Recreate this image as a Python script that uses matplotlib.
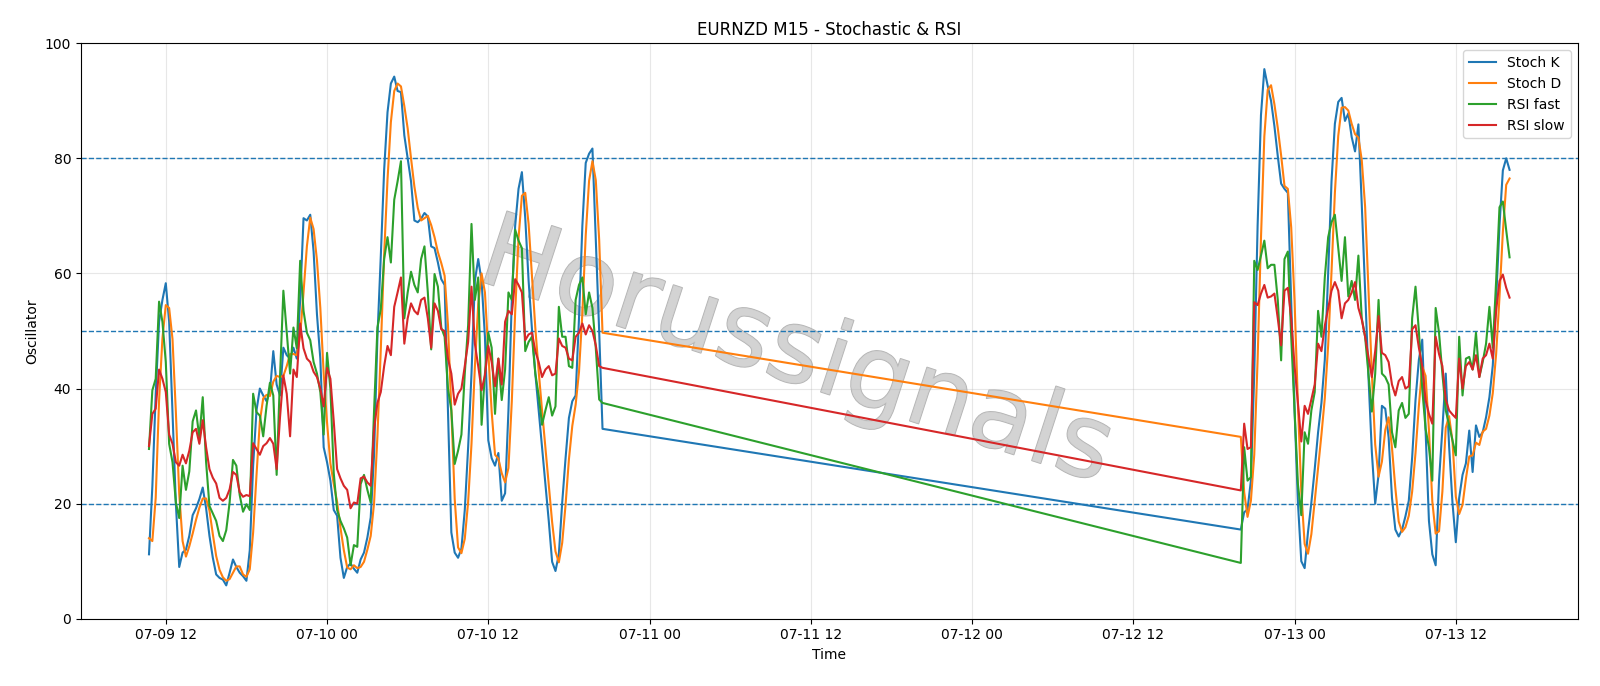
import matplotlib
matplotlib.use("Agg")
import matplotlib.pyplot as plt
import matplotlib.dates as mdates
import matplotlib.patheffects as pe
import pandas as pd

# M15 bars, Thu/Fri session then Sunday open (weekend gap is bridged by the line)
start_1 = "2020-07-09 10:45"
start_2 = "2020-07-12 20:00"

stoch_k_1 = [11.2, 23, 39, 51.6, 55.4, 58.3, 51.6, 36, 20, 9,
             11.5, 12, 14.4, 18, 19.2, 20.8, 22.8, 19.2, 14.4, 10.6,
             7.7, 7.1, 6.8, 5.8, 8, 10.3, 9, 8, 7.4,
             6.6, 11.9, 26.6, 36.2, 40, 38.8, 37.8, 39.4, 46.5, 40.7,
             38.8, 47.1, 45.8, 45.2, 47.1, 45.2, 55.4, 69.6, 69.2, 70.2,
             63.8, 52.9, 45.2, 29.8, 27.2, 24, 18.9, 17.9, 10.6, 7.1,
             9, 9.6, 8.7, 8, 10.3, 11.5, 14.1, 17.6, 28.5,
             49, 63, 78, 88, 93, 94.2, 91.7, 91.5, 84, 80,
             76, 69.2, 68.9, 69.5, 70.5, 69.9, 64.7, 64.4, 61.9, 59,
             58, 36, 15, 11.5, 10.6, 12.2, 18.9, 29.8, 42.6, 58.7,
             62.5, 58.7, 49, 31, 27.9, 26.6, 28.8, 20.5, 21.8, 36.2,
             55.4, 68.3, 74.7, 77.6, 69.6, 58.7, 50.3, 42.6, 36.2, 29.8,
             23.4, 17, 9.9, 8.3, 11.2, 20.2, 27.9, 34.9, 37.8, 38.8,
             52.2, 68.3, 79.2, 80.8, 81.7, 66, 50, 33]
stoch_d_1 = [14, 13.5, 21, 37.9, 48.7, 54.5, 54, 48.6, 35.9, 21.7,
             13.5, 10.8, 12.6, 14.8, 17.2, 19.3, 20.9, 20.9, 18.8, 14.7,
             10.9, 8.5, 7.2, 6.6, 6.9, 8, 9.1, 9.1, 7.7,
             7.3, 8.6, 15, 24.9, 34.3, 38.3, 38.9, 38.7, 41.2, 42.2,
             42, 42.2, 43.9, 46, 46, 45.8, 49.2, 56.7, 64.7, 69.7,
             67.7, 62.3, 54, 42.6, 34.1, 27, 23.4, 20.3, 15.8, 11.9,
             8.9, 8.6, 9.3, 8.8, 9, 9.9, 12, 14.4, 20.1,
             31.7, 46.8, 63.3, 76.3, 86.3, 91.7, 93, 92.5, 89.1, 85.2,
             80, 75.1, 71.4, 69.2, 69.6, 70, 68.4, 66.3, 63.7, 61.8,
             59.6, 51, 36.3, 20.8, 12.4, 11.4, 13.9, 20.3, 30.4, 43.7,
             54.6, 60, 56.7, 46.2, 36, 28.5, 27.8, 25.3, 23.7, 26.2,
             37.8, 53.3, 66.1, 73.5, 74, 68.6, 59.5, 50.5, 43, 36.2,
             29.8, 23.4, 16.8, 11.7, 9.8, 13.2, 19.8, 27.7, 33.5, 37.2,
             42.9, 53.1, 66.6, 76.1, 79.5, 76.2, 65.9, 49.7]
rsi_fast_1 = [29.5, 39.7, 41.7, 55.1, 51.6, 44.6, 30.4, 27.2, 20.2, 17.5,
              26.6, 22.4, 25.6, 34.3, 36.2, 31.4, 38.5, 27.2, 19.6, 18.3,
              17, 14.4, 13.5, 15.4, 20.2, 27.6, 26.6, 21.5, 18.6,
              19.9, 18.9, 39.1, 35.9, 35.3, 31.7, 37, 41, 38.8, 25,
              42, 57, 49.7, 42.6, 50.6, 47, 62.2, 53.5, 49.7, 48.4,
              44.6, 42.6, 39.4, 32, 46.2, 40, 25.3, 18.9, 17, 15.7,
              14.1, 9.3, 12.8, 12.5, 23.4, 25, 22.4, 20.2, 36.2,
              50.6, 53.8, 62.5, 66.3, 61.9, 72.8, 76, 79.5, 52.2, 56.7,
              60.3, 58, 56.7, 62.5, 64.7, 56.7, 46.8, 59.9, 57.7, 50.6,
              49, 40, 36.2, 26.9, 29.2, 32, 42.6, 51, 68.6, 55.4,
              59.3, 33.7, 42.6, 49.7, 47.1, 35.6, 45.2, 38, 43.3, 56.7,
              55.4, 67.6, 65.7, 64.4, 46.5, 48.1, 49, 42.6, 38.8, 33.7,
              36.2, 38.5, 35.3, 36.9, 54.2, 49, 49, 43.9, 43.6, 55.4,
              58, 59.3, 52.9, 56.7, 54, 47, 38.1, 37.5]
rsi_slow_1 = [30, 35.6, 36.5, 43.3, 41.7, 39.4, 32, 30.4, 27.2, 26.6,
              28.5, 27, 29.2, 32.4, 33, 30.4, 34.5, 29.8, 26, 24.5,
              23.5, 21, 20.5, 21, 22.5, 25.5, 25, 22, 21.2,
              21.5, 21.3, 30.5, 29.5, 28.5, 30, 30.5, 31.4, 30.4, 26,
              35, 42.3, 39.1, 31.7, 43.3, 42, 51.3, 47, 45.2, 44.6,
              42.9, 42, 40, 36.9, 43.6, 41.7, 34.3, 26, 24.4, 23.1,
              22.4, 19.2, 20.2, 20, 24.4, 24.7, 23.7, 23.1, 33,
              37.5, 39.4, 43.9, 47.4, 45.8, 54.2, 56.7, 59.3, 47.8, 52.2,
              54.8, 53.5, 52.9, 55.4, 55.8, 52.2, 47.1, 54.8, 53.5, 50.3,
              50, 45.2, 42.6, 37.2, 39.1, 40, 43.9, 48.1, 57.7, 47.8,
              43.9, 39.7, 42.3, 47.4, 44.6, 40.4, 45.2, 40.7, 51.6, 53.5,
              52.9, 59, 58, 56.7, 48.4, 49.4, 49.7, 46.5, 44.6, 42,
              43.3, 43.9, 42.3, 42.6, 48.7, 47.4, 47.1, 45.2, 44.9, 49,
              49.7, 51.3, 49.4, 51, 50, 47.5, 43.9, 43.6]

stoch_k_2 = [15.5, 18.5, 19, 24, 42.6, 68.3, 87.5, 95.5, 92.6, 90,
             85.6, 80.4, 75.6, 74.7, 74, 55.4, 36.2, 20.2, 10,
             8.8, 15.1, 20.2, 26, 32.4, 37.5, 45, 60, 76, 86,
             89.8, 90.5, 86.5, 87.8, 83.7, 81.2, 85.9, 72, 57, 42,
             29, 20, 25, 37, 36.5, 31.5, 21, 15.5, 14.3, 15.5,
             17.8, 20.5, 28, 38, 45, 48.5, 33, 17, 11.2, 9.3,
             24, 33, 42.6, 30, 20.2, 13.3, 21, 25, 27, 32.7,
             25.5, 33.6, 31.6, 32.4, 35, 38.5, 44, 55.4, 68.3, 77.9,
             80, 78]
stoch_d_2 = [31.6, 22, 17.7, 20.5, 28.5, 45, 66.1, 83.8, 91.9, 92.7,
             89.4, 85.3, 80.5, 75.2, 74.7, 68, 55.2, 37.3, 22.1,
             13, 11.3, 14.7, 20.4, 26.2, 32, 38.3, 47.5, 60.3, 74,
             83.9, 88.8, 88.9, 88.3, 86, 84.2, 83.6, 79.7, 71.6, 57,
             42.7, 30.3, 24.7, 27.3, 32.8, 35, 29.7, 22.7, 16.9, 15.1,
             15.9, 17.9, 22.1, 28.8, 37, 43.8, 42.2, 32.8, 20.4, 14.8,
             15.2, 22.1, 33.2, 35.2, 30.9, 21.2, 18.2, 19.8, 24.3, 28.2,
             28.4, 30.6, 30.2, 32.5, 33, 35.3, 39.2, 46, 55.9, 67.2,
             75.4, 76.5]
rsi_fast_2 = [9.7, 29.8, 24, 24.6, 62.2, 60.6, 63.1, 65.7, 60.9, 61.5,
              61.5, 55.4, 44.9, 62.5, 63.8, 49, 36.2, 23.4, 18,
              32.4, 30.4, 36.2, 39.4, 53.5, 49, 59.3, 66.3, 68.9, 70.2,
              64.4, 58.7, 66.3, 56, 58.7, 55.4, 63.1, 52.2, 49, 42.6,
              36, 42.6, 55.4, 42.6, 42, 40.7, 32.4, 29.8, 36.2, 37.5,
              34.9, 35.6, 52.2, 57.7, 50, 40, 33, 29.8, 24, 54,
              49.7, 42.6, 36.2, 33.7, 31, 28.4, 49, 38.8, 45.2, 45.5,
              43.3, 49.7, 42, 44.6, 47.8, 54.2, 47.1, 58.7, 71.5, 72.5,
              67.5, 62.8]
rsi_slow_2 = [22.3, 33.9, 29.5, 29.8, 55, 54.5, 56.5, 58, 55.8, 56,
              56.5, 52.2, 47.5, 57, 57.5, 52.2, 43.9, 37.5, 30.8,
              37, 35.6, 38.1, 40.7, 47.8, 46.5, 50.9, 54, 57, 58.5,
              57, 52.2, 54.8, 55.4, 56.7, 58.5, 54, 52, 49, 45.5,
              42, 46.5, 52.6, 46.2, 45.8, 44.6, 40.7, 38.8, 41.3, 42,
              40, 40.4, 50.3, 51, 47.1, 43.9, 38, 35.6, 33.9, 49,
              46, 43.9, 38.1, 36.2, 35.5, 34.9, 45.2, 40, 43.9, 44.6,
              43.3, 45.8, 42, 45.2, 45.8, 47.8, 45.2, 53.5, 58.7, 59.8,
              57.5, 55.8]

levels = [80, 50, 20]

t = pd.date_range(start_1, periods=len(stoch_k_1), freq="15min").append(
    pd.date_range(start_2, periods=len(stoch_k_2), freq="15min"))

df = pd.DataFrame({
    "Stoch K": stoch_k_1 + stoch_k_2,
    "Stoch D": stoch_d_1 + stoch_d_2,
    "RSI fast": rsi_fast_1 + rsi_fast_2,
    "RSI slow": rsi_slow_1 + rsi_slow_2,
}, index=t)

fig, ax = plt.subplots(figsize=(16, 6.86), dpi=100)
fig.subplots_adjust(left=0.0506, right=0.986, top=0.937, bottom=0.098)

for col in df.columns:
    ax.plot(df.index, df[col], label=col, linewidth=1.5, zorder=3)

for lv in levels:
    ax.axhline(lv, color="tab:blue", linestyle="--", linewidth=1, zorder=2)

# watermark
ax.text(0.478, 0.46, "Horussignals", transform=ax.transAxes, fontsize=74,
        rotation=-18, ha="center", va="center", color="#d2d2d2", alpha=0.8,
        zorder=1, path_effects=[pe.withStroke(linewidth=1.0, foreground="#a0a0a0")])

ax.set_ylim(0, 100)
ax.xaxis.set_major_locator(mdates.HourLocator(byhour=[0, 12]))
ax.xaxis.set_major_formatter(mdates.DateFormatter("%m-%d %H"))
ax.grid(True, alpha=0.3)
ax.set_title("EURNZD M15 - Stochastic & RSI")
ax.set_xlabel("Time")
ax.set_ylabel("Oscillator")
ax.legend(loc="upper right")

fig.savefig("out.png", dpi=100)
